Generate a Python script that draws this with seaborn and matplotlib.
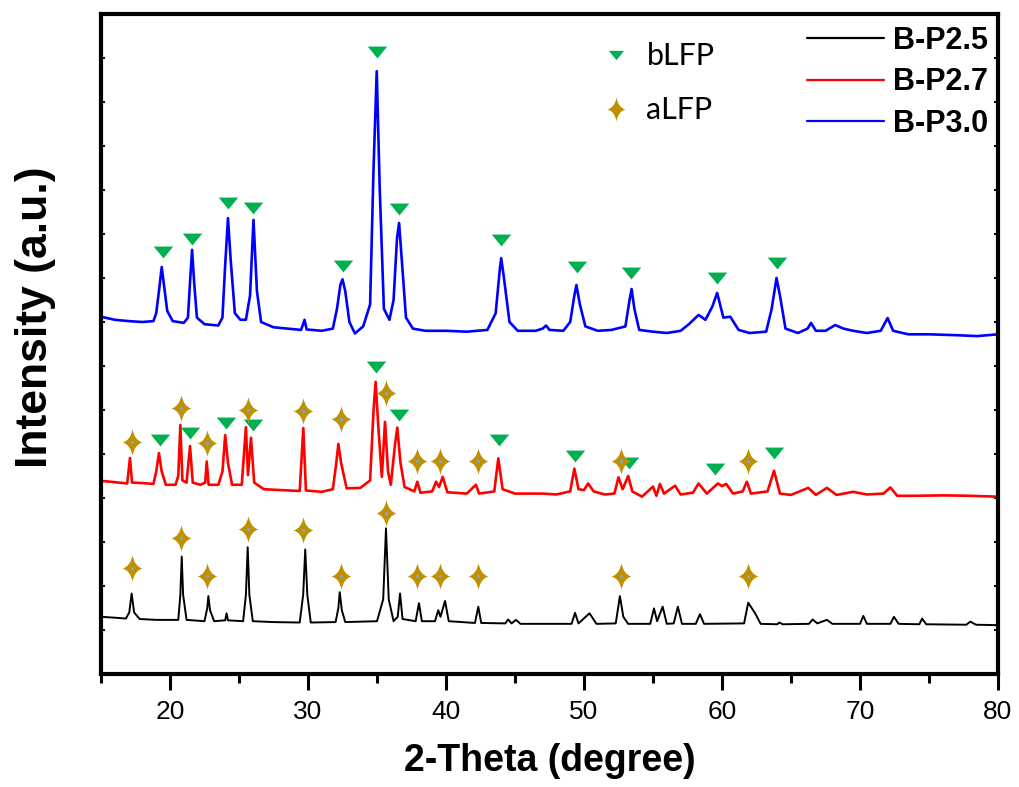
import numpy as np
import pandas as pd
import matplotlib
matplotlib.use("Agg")
import matplotlib.pyplot as plt
import seaborn as sns
from matplotlib.path import Path
from matplotlib.lines import Line2D
from matplotlib.ticker import MultipleLocator, FixedLocator

# ---------------- data ----------------
# B-P3.0 (blue), offset trace
bp30_x = [15.0, 16.0, 17.0, 18.0, 18.8, 19.0, 19.2, 19.4, 19.6, 19.8, 20.2, 21.0, 21.3, 21.45, 21.6, 21.75,
          21.95, 22.5, 23.5, 23.8, 24.0, 24.2, 24.4, 24.7, 25.1, 25.5, 25.8, 26.05, 26.3, 26.6, 27.5, 28.5,
          29.5, 29.75, 29.9, 31.0, 31.8, 32.1, 32.35, 32.5, 32.7, 33.0, 33.4, 34.0, 34.5, 34.75, 34.98, 35.2,
          35.5, 35.9, 36.2, 36.45, 36.6, 36.8, 37.1, 37.6, 38.5, 40.0, 41.5, 43.0, 43.6, 43.9, 44.0, 44.2,
          44.6, 45.2, 46.5, 47.0, 47.25, 47.5, 48.5, 49.0, 49.3, 49.45, 49.7, 50.1, 51.0, 52.0, 53.0, 53.3,
          53.45, 53.65, 54.0, 55.0, 56.0, 57.0, 57.6, 58.3, 58.8, 59.3, 59.65, 60.1, 60.6, 61.2, 62.0, 63.2,
          63.6, 63.95, 64.2, 64.6, 65.5, 66.2, 66.45, 66.8, 67.5, 68.2, 68.8, 69.5, 70.5, 71.5, 72.0, 72.4,
          73.5, 75.0, 77.0, 78.5, 80.0]
bp30_y = [8.12, 8.05, 8.02, 8.00, 8.02, 8.20, 8.70, 9.25, 8.75, 8.25, 8.02, 7.98, 8.10, 8.90, 9.64, 8.90,
          8.10, 7.95, 7.92, 8.10, 9.30, 10.36, 9.40, 8.20, 8.05, 8.05, 8.60, 10.32, 8.70, 8.00, 7.88, 7.85,
          7.82, 8.05, 7.83, 7.80, 7.85, 8.30, 8.85, 8.97, 8.70, 8.00, 7.74, 7.90, 8.40, 11.50, 13.70, 11.00,
          8.30, 8.05, 8.50, 9.90, 10.25, 9.40, 8.10, 7.85, 7.80, 7.80, 7.78, 7.82, 8.20, 9.20, 9.45, 9.00,
          8.00, 7.80, 7.80, 7.85, 7.92, 7.82, 7.80, 8.00, 8.60, 8.84, 8.40, 7.90, 7.80, 7.82, 7.90, 8.50,
          8.75, 8.30, 7.82, 7.78, 7.75, 7.80, 7.95, 8.16, 8.05, 8.35, 8.66, 8.10, 8.12, 7.82, 7.75, 7.78,
          8.30, 9.00, 8.60, 7.85, 7.75, 7.85, 7.98, 7.80, 7.80, 7.93, 7.85, 7.80, 7.75, 7.80, 8.09, 7.80,
          7.72, 7.72, 7.70, 7.68, 7.72]

# B-P2.7 (red), offset trace
bp27_x = [15.0, 16.0, 16.9, 17.1, 17.25, 18.0, 18.8, 19.0, 19.2, 19.4, 19.7, 20.4, 20.6, 20.75, 20.9, 21.2,
          21.45, 21.65, 22.2, 22.55, 22.66, 22.8, 23.5, 23.8, 24.0, 24.2, 24.5, 25.2, 25.5, 25.65, 25.87, 26.1,
          26.8, 28.0, 29.4, 29.66, 29.85, 31.0, 31.8, 32.05, 32.2, 32.4, 32.8, 33.8, 34.5, 34.75, 34.9, 35.1,
          35.35, 35.58, 35.8, 36.0, 36.3, 36.47, 36.7, 37.0, 37.7, 37.92, 38.15, 39.0, 39.28, 39.5, 39.76, 40.1,
          41.5, 42.17, 42.4, 43.5, 43.79, 44.1, 45.0, 47.0, 48.0, 49.0, 49.3, 49.6, 50.0, 50.3, 50.7, 51.5,
          52.2, 52.5, 52.8, 53.2, 53.5, 54.2, 55.0, 55.25, 55.5, 55.8, 56.6, 57.0, 57.9, 58.3, 58.9, 59.7,
          60.0, 60.3, 60.8, 61.5, 61.8, 62.1, 63.3, 63.77, 64.2, 65.0, 66.25, 66.8, 67.6, 68.3, 69.5, 70.5,
          71.7, 72.2, 72.7, 74.0, 76.0, 78.0, 80.0]
bp27_y = [4.39, 4.36, 4.33, 4.91, 4.35, 4.34, 4.32, 4.60, 5.02, 4.60, 4.30, 4.30, 4.50, 5.66, 4.40, 4.35,
          5.18, 4.35, 4.30, 4.35, 4.83, 4.30, 4.30, 4.60, 5.43, 4.80, 4.30, 4.30, 5.61, 4.52, 5.37, 4.35,
          4.20, 4.18, 4.16, 5.59, 4.17, 4.14, 4.20, 4.80, 5.23, 4.80, 4.22, 4.23, 4.40, 6.00, 6.64, 5.60,
          4.48, 5.73, 4.60, 4.30, 5.20, 5.60, 4.80, 4.25, 4.15, 4.37, 4.12, 4.15, 4.37, 4.25, 4.48, 4.13,
          4.10, 4.30, 4.10, 4.15, 4.90, 4.20, 4.10, 4.10, 4.08, 4.15, 4.67, 4.20, 4.18, 4.33, 4.15, 4.08,
          4.10, 4.47, 4.20, 4.50, 4.15, 4.03, 4.26, 4.05, 4.32, 4.10, 4.28, 4.08, 4.12, 4.33, 4.10, 4.33,
          4.27, 4.32, 4.10, 4.15, 4.37, 4.10, 4.15, 4.62, 4.10, 4.07, 4.23, 4.07, 4.23, 4.07, 4.14, 4.08,
          4.10, 4.24, 4.05, 4.05, 4.06, 4.05, 4.03]

# B-P2.5 (black)
bp25_x = [15.0, 16.0, 16.8, 17.05, 17.22, 17.4, 17.8, 19.0, 20.6, 20.75, 20.85, 20.95, 21.2, 22.5, 22.7, 22.78,
          22.9, 23.2, 24.0, 24.1, 24.2, 25.3, 25.5, 25.63, 25.75, 26.0, 27.5, 29.4, 29.65, 29.8, 29.95, 30.2,
          32.0, 32.2, 32.3, 32.45, 32.7, 35.0, 35.45, 35.65, 35.85, 36.2, 36.5, 36.67, 36.85, 37.8, 38.04, 38.25,
          39.2, 39.44, 39.6, 39.93, 40.2, 42.1, 42.34, 42.55, 44.3, 44.5, 44.75, 45.07, 45.4, 49.1, 49.35, 49.6,
          50.4, 50.9, 52.3, 52.6, 52.85, 53.2, 54.8, 55.07, 55.3, 55.7, 56.0, 56.5, 56.8, 57.1, 58.1, 58.4,
          58.7, 61.6, 61.9, 62.4, 62.8, 64.0, 64.15, 64.4, 66.3, 66.57, 66.9, 67.6, 68.0, 70.0, 70.24, 70.5,
          72.2, 72.46, 72.8, 74.3, 74.5, 74.8, 77.7, 78.0, 78.4, 80.0]
bp25_y = [1.30, 1.28, 1.26, 1.40, 1.83, 1.40, 1.25, 1.23, 1.23, 1.80, 2.67, 1.80, 1.23, 1.20, 1.50, 1.77,
          1.45, 1.20, 1.22, 1.38, 1.22, 1.20, 1.80, 2.88, 1.80, 1.20, 1.18, 1.17, 1.80, 2.83, 1.80, 1.17,
          1.18, 1.50, 1.86, 1.45, 1.18, 1.20, 1.70, 3.31, 1.70, 1.20, 1.30, 1.83, 1.25, 1.20, 1.61, 1.20,
          1.20, 1.45, 1.30, 1.66, 1.20, 1.16, 1.53, 1.16, 1.15, 1.24, 1.15, 1.23, 1.14, 1.14, 1.39, 1.15,
          1.38, 1.14, 1.15, 1.77, 1.30, 1.14, 1.14, 1.49, 1.20, 1.53, 1.14, 1.15, 1.53, 1.14, 1.14, 1.36,
          1.14, 1.15, 1.62, 1.38, 1.14, 1.13, 1.17, 1.13, 1.14, 1.24, 1.15, 1.23, 1.14, 1.14, 1.32, 1.14,
          1.14, 1.30, 1.14, 1.13, 1.26, 1.13, 1.12, 1.19, 1.12, 1.11]

# phase markers
blfp_x = [19.47, 21.57, 24.22, 26.04, 32.56, 34.98, 36.59, 43.99, 49.51, 53.38, 59.66, 64.01,
          19.28, 21.45, 24.03, 26.04, 34.90, 36.59, 43.84, 49.35, 53.28, 59.49, 63.79]
blfp_y = [9.60, 9.88, 10.70, 10.58, 9.28, 14.13, 10.56, 9.86, 9.26, 9.11, 8.99, 9.33,
          5.32, 5.47, 5.71, 5.66, 6.97, 5.89, 5.32, 4.96, 4.79, 4.67, 5.02]
alfp_x = [17.22, 20.80, 22.70, 25.67, 29.66, 32.39, 35.65, 37.92, 39.57, 42.30, 52.66, 61.90,
          17.22, 20.80, 22.70, 25.67, 29.66, 32.39, 35.65, 37.92, 39.57, 42.30, 52.66, 61.90]
alfp_y = [5.28, 6.04, 5.26, 6.00, 5.98, 5.80, 6.39, 4.83, 4.83, 4.83, 4.83, 4.83,
          2.42, 3.08, 2.23, 3.29, 3.27, 2.23, 3.67, 2.23, 2.23, 2.23, 2.23, 2.23]

series_names = ["B-P2.5", "B-P2.7", "B-P3.0"]
series_colors = ["#000000", "#FF0000", "#0000FF"]
phase_names = ["bLFP", "aLFP"]
xticks = [20, 30, 40, 50, 60, 70, 80]

# ---------------- styling ----------------
sns.set_style("ticks")
plt.rcParams["font.family"] = ["Liberation Sans", "DejaVu Sans"]
for k in ["text.color", "axes.labelcolor", "xtick.color", "ytick.color", "axes.edgecolor"]:
    plt.rcParams[k] = "black"

tri = Path([(-1, 0.61), (1, 0.61), (0, -0.61), (-1, 0.61)],
           [Path.MOVETO, Path.LINETO, Path.LINETO, Path.CLOSEPOLY])
c = 0.16
star = Path([(0, 1), (c, c), (0.75, 0), (c, -c), (0, -1), (-c, -c), (-0.75, 0), (-c, c), (0, 1), (0, 1)],
            [Path.MOVETO, Path.CURVE3, Path.CURVE3, Path.CURVE3, Path.CURVE3,
             Path.CURVE3, Path.CURVE3, Path.CURVE3, Path.CURVE3, Path.CLOSEPOLY])
green = "#00B050"
gold = "#BF9000"

fig = plt.figure(figsize=(10.19, 7.87), dpi=100)
ax = fig.add_axes([101 / 1019, 113 / 787, 897 / 1019, 660 / 787])

df = pd.concat([
    pd.DataFrame({"x": bp25_x, "y": bp25_y, "sample": series_names[0]}),
    pd.DataFrame({"x": bp27_x, "y": bp27_y, "sample": series_names[1]}),
    pd.DataFrame({"x": bp30_x, "y": bp30_y, "sample": series_names[2]}),
])
widths = {"B-P2.5": 1.4, "B-P2.7": 1.9, "B-P3.0": 1.9}
for name, col in zip(series_names, series_colors):
    sns.lineplot(data=df[df["sample"] == name], x="x", y="y", color=col, sort=False,
                 estimator=None, linewidth=widths[name], ax=ax, legend=False)

mk = pd.DataFrame({"x": blfp_x, "y": blfp_y})
ax.plot(mk["x"], mk["y"], linestyle="none", marker=tri, markersize=14,
        color=green, markeredgewidth=0, zorder=5)
ma = pd.DataFrame({"x": alfp_x, "y": alfp_y})
ax.plot(ma["x"], ma["y"], linestyle="none", marker=star, markersize=19,
        color=gold, markeredgewidth=0, zorder=5)
ax.plot(ma["x"], ma["y"], linestyle="none", marker="o", markersize=2.4,
        color="#7FA6C8", markeredgewidth=0, zorder=6)

ax.set_xlim(15, 80)
ax.set_ylim(0, 15)
ax.xaxis.set_major_locator(FixedLocator(xticks))
ax.xaxis.set_minor_locator(MultipleLocator(5))
ax.yaxis.set_major_locator(MultipleLocator(1))
ax.set_yticklabels([])
ax.set_xticklabels([str(t) for t in xticks])

for sp in ax.spines.values():
    sp.set_linewidth(3.0)
    sp.set_visible(True)
    sp.set_color("black")
ax.tick_params(axis="x", which="major", direction="out", length=11.5, width=2.2, pad=7,
               labelsize=19, bottom=True, top=False)
ax.tick_params(axis="x", which="minor", direction="out", length=6.5, width=2.2, bottom=True, top=False)
ax.tick_params(axis="y", which="major", direction="in", length=3, width=1.4, left=True, right=True)

ax.set_xlabel("2-Theta (degree)", fontsize=27, fontweight="bold", labelpad=14)
ax.set_ylabel("Intensity (a.u.)", fontsize=32, fontweight="bold")
ax.yaxis.set_label_coords(-0.050, 0.54)

# legends
line_handles = [Line2D([], [], color=c, lw=1.6) for c in series_colors]
leg1 = ax.legend(line_handles, series_names, loc="upper right", bbox_to_anchor=(0.989, 0.982),
                 frameon=False, borderpad=0, borderaxespad=0, handlelength=2.5, handletextpad=0.3,
                 labelspacing=0.38, prop={"family": "Liberation Sans", "weight": "bold", "size": 22})
ax.add_artist(leg1)
ph_handles = [Line2D([], [], linestyle="none", marker=tri, markersize=11, color=green, markeredgewidth=0),
              Line2D([], [], linestyle="none", marker=star, markersize=17, color=gold, markeredgewidth=0)]
leg2 = ax.legend(ph_handles, phase_names, loc="upper left", bbox_to_anchor=(0.557, 0.957),
                 frameon=False, borderpad=0, borderaxespad=0, handlelength=1.0, handletextpad=0.5,
                 labelspacing=0.85, prop={"family": ["Lato", "DejaVu Sans"], "size": 22})

fig.savefig("out.png", dpi=100)
